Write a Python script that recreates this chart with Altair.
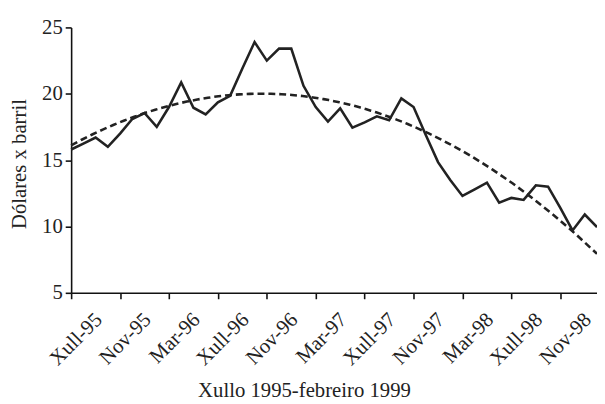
import json
import altair as alt
import pandas as pd

months = [
    "Xull-95", "Ago-95", "Set-95", "Out-95", "Nov-95", "Dec-95",
    "Xan-96", "Feb-96", "Mar-96", "Abr-96", "Mai-96", "Xuñ-96",
    "Xull-96", "Ago-96", "Set-96", "Out-96", "Nov-96", "Dec-96",
    "Xan-97", "Feb-97", "Mar-97", "Abr-97", "Mai-97", "Xuñ-97",
    "Xull-97", "Ago-97", "Set-97", "Out-97", "Nov-97", "Dec-97",
    "Xan-98", "Feb-98", "Mar-98", "Abr-98", "Mai-98", "Xuñ-98",
    "Xull-98", "Ago-98", "Set-98", "Out-98", "Nov-98", "Dec-98",
    "Xan-99", "Feb-99",
]

prices = [
    15.8, 16.25, 16.7, 16.0, 17.0, 18.1,
    18.55, 17.5, 19.0, 20.85, 18.95, 18.45,
    19.35, 19.85, 21.9, 23.9, 22.5, 23.4,
    23.4, 20.6, 19.0, 17.9, 18.9, 17.45,
    17.85, 18.3, 18.0, 19.65, 19.0, 16.9,
    14.85, 13.5, 12.3, 12.8, 13.3, 11.8,
    12.15, 12.0, 13.1, 13.0, 11.4, 9.7,
    10.9, 9.95,
]

tick_every = 4
y_ticks = [5, 10, 15, 20, 25]

df = pd.DataFrame({"mes": months, "prezo": prices})
df["i"] = range(len(df))

label_expr = json.dumps(months) + "[datum.value]"
tick_vals = list(range(0, len(months), tick_every))

FONT = "Liberation Serif"

x_enc = alt.X(
    "i:Q",
    scale=alt.Scale(domain=[0, len(months) - 1], nice=False, zero=False),
    axis=alt.Axis(
        values=tick_vals,
        labelExpr=label_expr,
        labelAngle=-45,
        labelAlign="right",
        labelBaseline="top",
        labelOffset=20,
        labelPadding=10,
        tickSize=6,
        grid=False,
        title="Xullo 1995-febreiro 1999",
        titleX=236,
        titleY=105,
        titleBaseline="alphabetic",
        titleFontSize=21,
        titleFontWeight="normal",
    ),
)

y_enc = alt.Y(
    "prezo:Q",
    scale=alt.Scale(domain=[5, 25], nice=False, zero=False),
    axis=alt.Axis(
        values=y_ticks,
        tickSize=6,
        labelPadding=3,
        grid=False,
        title="Dólares x barril",
        titleX=-52,
        titleY=138,
        titleBaseline="middle",
        titleFontSize=21,
        titleFontWeight="normal",
    ),
)

line = alt.Chart(df).mark_line(color="#222222", strokeWidth=2.6).encode(x=x_enc, y=y_enc)

trend = (
    alt.Chart(df)
    .transform_regression("i", "prezo", method="poly", order=2, extent=[0, len(months) - 1])
    .mark_line(color="#222222", strokeWidth=2.6, strokeDash=[7, 4])
    .encode(x=x_enc, y=y_enc)
)

chart = (
    alt.layer(trend, line)
    .properties(
        width=533,
        height=269,
        autosize=alt.AutoSizeParams(type="none"),
        padding={"left": 64, "top": 17, "right": 0, "bottom": 110},
    )
    .configure_view(stroke=None)
    .configure_axis(
        domainColor="#111111",
        domainWidth=1.6,
        tickColor="#111111",
        tickWidth=1.6,
        labelFont=FONT,
        titleFont=FONT,
        labelFontSize=21,
        labelColor="#222222",
        titleColor="#222222",
        labelFlush=False,
        labelOverlap=False,
    )
)

chart.save("out.html", embed_options={"renderer": "svg", "actions": False})
